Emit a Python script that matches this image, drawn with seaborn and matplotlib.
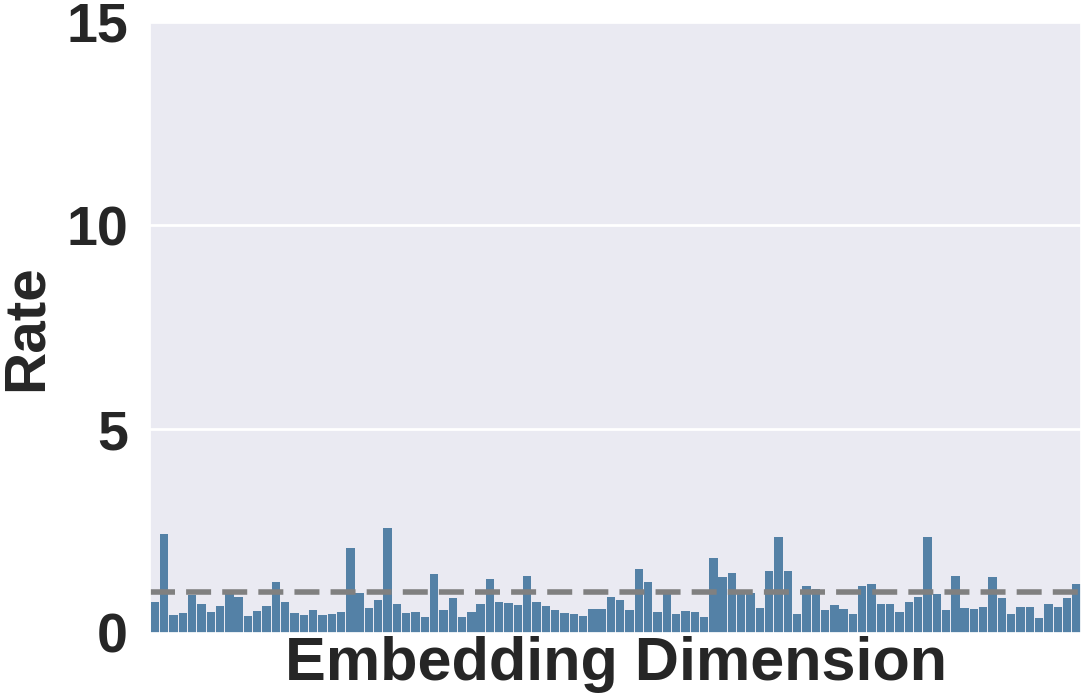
import numpy as np
import pandas as pd
import seaborn as sns
import matplotlib.pyplot as plt

# rate per embedding dimension
rates = [0.76, 2.43, 0.44, 0.49, 0.93, 0.71, 0.52, 0.66, 0.96, 0.89,
         0.42, 0.54, 0.66, 1.25, 0.76, 0.49, 0.44, 0.57, 0.44, 0.47,
         0.52, 2.07, 0.98, 0.61, 0.81, 2.58, 0.71, 0.49, 0.52, 0.39,
         1.45, 0.57, 0.86, 0.39, 0.52, 0.71, 1.33, 0.76, 0.74, 0.69,
         1.40, 0.76, 0.66, 0.57, 0.49, 0.47, 0.42, 0.59, 0.59, 0.89,
         0.81, 0.57, 1.57, 1.25, 0.52, 0.96, 0.47, 0.54, 0.52, 0.39,
         1.84, 1.38, 1.48, 1.03, 0.98, 0.61, 1.52, 2.34, 1.52, 0.47,
         1.16, 1.08, 0.57, 0.69, 0.59, 0.47, 1.16, 1.20, 0.71, 0.71,
         0.52, 0.76, 0.89, 2.36, 0.96, 0.57, 1.40, 0.61, 0.59, 0.64,
         1.38, 0.86, 0.47, 0.64, 0.64, 0.37, 0.71, 0.64, 0.86, 1.20]
dims = list(range(len(rates)))
baseline = 1.0

df = pd.DataFrame({"dim": dims, "rate": rates})

sns.set_theme(style="darkgrid", rc={"grid.linewidth": 2})
plt.rcParams['font.family'] = ['Liberation Sans', 'DejaVu Sans']

fig, ax = plt.subplots(figsize=(10.81, 7), dpi=100)
fig.subplots_adjust(left=0.139, right=1.0, top=0.969, bottom=0.096)

sns.barplot(data=df, x="dim", y="rate", color="steelblue", width=0.9,
            linewidth=0, ax=ax)
ax.axhline(baseline, color="gray", linestyle="--", linewidth=4, dashes=(4.5, 2))

ax.set_ylim(0, 15)
ax.set_yticks([0, 5, 10, 15])
ax.set_xticks([])
ax.tick_params(axis="y", labelsize=40, pad=10)
for lab in ax.get_yticklabels():
    lab.set_fontweight("bold")
ax.set_xlabel("Embedding Dimension", fontsize=44, fontweight="bold", labelpad=2)
ax.set_ylabel("Rate", fontsize=42, fontweight="bold", labelpad=9)

fig.savefig("out.png", dpi=100)
